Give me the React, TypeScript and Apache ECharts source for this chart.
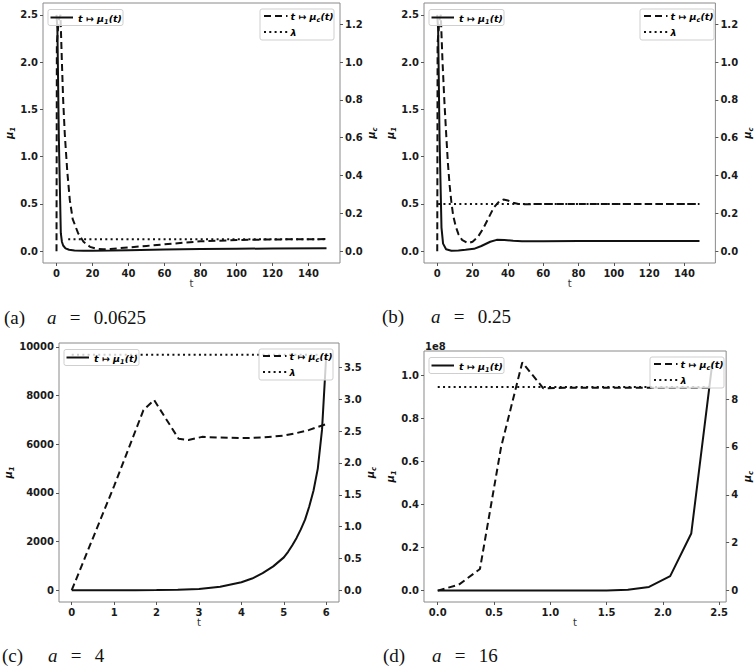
import React, { useEffect, useRef } from "react";
import * as echarts from "echarts";

// ---------------- data ----------------
// (a) a = 0.0625
const tMu1A = [0, 0.5, 1.3, 2.4, 3.0, 3.7, 5, 7, 10, 15, 20, 30, 40, 60, 80, 100, 120, 150];
const mu1A = [2.5, 2.35, 1.2, 0.19, 0.1, 0.06, 0.03, 0.015, 0.008, 0.004, 0.004, 0.006, 0.01, 0.017, 0.022, 0.026, 0.028, 0.03];
const tMucA = [0, 0.2, 1.2, 2.2, 3.0, 3.7, 4.6, 6, 7.4, 9, 12, 15, 18.6, 22, 26, 30, 40, 50, 60, 80, 100, 120, 150];
const mucA = [0, 1.1, 1.22, 1.25, 1.0, 0.8, 0.62, 0.42, 0.27, 0.17, 0.095, 0.05, 0.023, 0.013, 0.01, 0.012, 0.02, 0.028, 0.036, 0.052, 0.059, 0.062, 0.064];
const lambdaA = 0.0625;
const lambdaSpanA = [6.5, 150];

// (b) a = 0.25
const tMu1B = [0, 0.5, 1.3, 2.4, 3.3, 5, 8, 12, 16, 20.8, 25, 30, 33.7, 38, 43, 48, 60, 80, 100, 120, 148.5];
const mu1B = [2.5, 2.35, 1.2, 0.25, 0.08, 0.02, 0.005, 0.008, 0.015, 0.025, 0.055, 0.1, 0.12, 0.118, 0.11, 0.106, 0.106, 0.107, 0.107, 0.107, 0.107];
const tMucB = [0, 0.2, 1.2, 2.0, 3, 4, 5, 6, 7, 8, 9, 10.5, 12, 14, 17.5, 20, 23, 26, 29, 32, 35, 37.5, 40, 43, 46, 50, 60, 80, 100, 120, 148.5];
const mucB = [0, 1.1, 1.22, 1.25, 1.0, 0.8, 0.63, 0.47, 0.35, 0.26, 0.19, 0.13, 0.09, 0.06, 0.042, 0.05, 0.075, 0.12, 0.175, 0.23, 0.262, 0.273, 0.268, 0.256, 0.25, 0.248, 0.25, 0.25, 0.25, 0.25, 0.25];
const lambdaB = 0.25;
const lambdaSpanB = [0.5, 148.5];

// (c) a = 4
const tMu1C = [0, 0.5, 1, 1.5, 2, 2.5, 3, 3.5, 4, 4.25, 4.5, 4.75, 5, 5.1, 5.2, 5.3, 5.4, 5.5, 5.6, 5.7, 5.8, 5.9, 6];
const mu1C = [0, 1, 2, 4, 8, 18, 50, 140, 330, 480, 700, 980, 1350, 1580, 1850, 2150, 2500, 2900, 3450, 4100, 5000, 6600, 9680];
const tMucC = [0, 1.0, 1.69, 1.94, 2.52, 2.75, 3.07, 3.5, 4.0, 4.5, 5.0, 5.3, 5.6, 6.0];
const mucC = [0, 1.64, 2.83, 2.99, 2.38, 2.36, 2.41, 2.4, 2.39, 2.4, 2.43, 2.47, 2.52, 2.61];
const lambdaC = 3.7;
const lambdaSpanC = [0, 6];

// (d) a = 16
const tD = [0, 0.188, 0.375, 0.563, 0.751, 0.938, 1.126, 1.314, 1.501, 1.689, 1.877, 2.065, 2.252, 2.44];
const mu1D = [0, 0, 0, 0, 0, 0, 1e4, 3e4, 1e5, 4e5, 1.7e6, 6.7e6, 2.65e7, 1.06e8];
const mucD = [0, 0.25, 0.9, 6.0, 9.53, 8.45, 8.47, 8.47, 8.47, 8.47, 8.47, 8.47, 8.47, 8.47];
const lambdaD = 8.5;
const lambdaSpanD = [0, 2.44];

// tick values
const xTicksAB = [0, 20, 40, 60, 80, 100, 120, 140];
const mu1TicksAB = [0, 0.5, 1.0, 1.5, 2.0, 2.5];
const mucTicksAB = [0, 0.2, 0.4, 0.6, 0.8, 1.0, 1.2];
const xTicksC = [0, 1, 2, 3, 4, 5, 6];
const mu1TicksC = [0, 2000, 4000, 6000, 8000, 10000];
const mucTicksC = [0, 0.5, 1.0, 1.5, 2.0, 2.5, 3.0, 3.5];
const xTicksD = [0, 0.5, 1.0, 1.5, 2.0, 2.5];
const mu1TicksD = [0, 0.2e8, 0.4e8, 0.6e8, 0.8e8, 1.0e8];
const mucTicksD = [0, 2, 4, 6, 8];

const captionTags = ["(a)", "(b)", "(c)", "(d)"];
const aValues = ["0.0625", "0.25", "4", "16"];

// ---------------- layout / style ----------------
const FONT = "DejaVu Sans";
const INK = "#111";
const SPINE = "#8a8a8a";
const DASH = [7, 4];
const DOT = [2, 3.3];

const panels = [
  {
    box: { left: 43, top: 3, width: 297, height: 260 },
    x: [-7.5, 157.5], yl: [-0.125, 2.625], yr: [-0.0625, 1.3125],
    xt: xTicksAB, lt: mu1TicksAB, rt: mucTicksAB, xd: 0, ld: 1, rd: 1, lscale: 1,
    lGap: 21, rGap: 20,
    t1: tMu1A, m1: mu1A, tc: tMucA, mc: mucA, lam: lambdaA, lamSpan: lambdaSpanA,
    cap: { x: 4, y: 317, aX: 47 },
  },
  {
    box: { left: 424, top: 3, width: 296, height: 260 },
    x: [-7.5, 157.5], yl: [-0.125, 2.625], yr: [-0.0625, 1.3125],
    xt: xTicksAB, lt: mu1TicksAB, rt: mucTicksAB, xd: 0, ld: 1, rd: 1, lscale: 1,
    lGap: 19, rGap: 21,
    t1: tMu1B, m1: mu1B, tc: tMucB, mc: mucB, lam: lambdaB, lamSpan: lambdaSpanB,
    cap: { x: 382, y: 316, aX: 431 },
  },
  {
    box: { left: 59, top: 343, width: 280, height: 259 },
    x: [-0.3, 6.3], yl: [-484, 10161], yr: [-0.185, 3.885],
    xt: xTicksC, lt: mu1TicksC, rt: mucTicksC, xd: 0, ld: 0, rd: 1, lscale: 1,
    lGap: 35, rGap: 20,
    t1: tMu1C, m1: mu1C, tc: tMucC, mc: mucC, lam: lambdaC, lamSpan: lambdaSpanC,
    cap: { x: 2, y: 655, aX: 48 },
  },
  {
    box: { left: 424, top: 351, width: 306, height: 251 },
    x: [-0.122, 2.562], yl: [-0.053e8, 1.113e8], yr: [-0.4765, 10.0065],
    xt: xTicksD, lt: mu1TicksD, rt: mucTicksD, xd: 1, ld: 1, rd: 0, lscale: 1e8,
    lGap: 22, rGap: 11,
    t1: tD, m1: mu1D, tc: tD, mc: mucD, lam: lambdaD, lamSpan: lambdaSpanD,
    cap: { x: 383, y: 655, aX: 432 },
  },
];

const pairs = (t: number[], v: number[]) => t.map((x, i) => [x, v[i]]);

const tickLabel = {
  fontFamily: FONT,
  fontWeight: "bold" as const,
  fontSize: 10,
  color: "#1a1a1a",
};

const mathRich = {
  i: { fontFamily: FONT, fontWeight: "bold", fontStyle: "italic", fontSize: 9.5, color: INK, lineHeight: 14, verticalAlign: "middle" },
  s: { fontFamily: FONT, fontWeight: "bold", fontStyle: "italic", fontSize: 6.5, color: INK, lineHeight: 14, verticalAlign: "bottom" },
};

const nameRich = {
  m: { fontFamily: FONT, fontWeight: "bold", fontStyle: "italic", fontSize: 10, color: INK, lineHeight: 14, verticalAlign: "middle" },
  s: { fontFamily: FONT, fontWeight: "bold", fontStyle: "italic", fontSize: 7, color: INK, lineHeight: 14, verticalAlign: "bottom" },
};

function legendGroups(box: { left: number; top: number; width: number; height: number }) {
  const lx = box.left + 5;
  const ly = box.top + 6.5;
  const rx = box.left + box.width - 6 - 74;
  const ry = box.top + 6;
  return [
    {
      type: "group", x: lx, y: ly, z: 100,
      children: [
        { type: "rect", shape: { x: 0, y: 0, width: 75, height: 16, r: 2 }, style: { fill: "rgba(255,255,255,0.8)", stroke: "#cfcfcf", lineWidth: 1 }, z: 100 },
        { type: "line", shape: { x1: 2.5, y1: 8, x2: 25, y2: 8 }, style: { stroke: INK, lineWidth: 2 }, z: 101 },
        { type: "text", x: 30, y: 8.5, z: 101, style: { text: "{i|t ↦ μ}{s|1}{i|(t)}", rich: mathRich, verticalAlign: "middle", align: "left" } },
      ],
    },
    {
      type: "group", x: rx, y: ry, z: 100,
      children: [
        { type: "rect", shape: { x: 0, y: 0, width: 74, height: 31, r: 2 }, style: { fill: "rgba(255,255,255,0.8)", stroke: "#cfcfcf", lineWidth: 1 }, z: 100 },
        { type: "line", shape: { x1: 4, y1: 7, x2: 27.5, y2: 7 }, style: { stroke: INK, lineWidth: 2, lineDash: DASH }, z: 101 },
        { type: "text", x: 30.5, y: 7.5, z: 101, style: { text: "{i|t ↦ μ}{s|c}{i|(t)}", rich: mathRich, verticalAlign: "middle", align: "left" } },
        { type: "line", shape: { x1: 4, y1: 23, x2: 27.5, y2: 23 }, style: { stroke: INK, lineWidth: 2, lineDash: DOT }, z: 101 },
        { type: "text", x: 30.5, y: 23, z: 101, style: { text: "{i|λ}", rich: mathRich, verticalAlign: "middle", align: "left" } },
      ],
    },
  ];
}

function buildOption() {
  const grid: any[] = [];
  const xAxis: any[] = [];
  const yAxis: any[] = [];
  const series: any[] = [];
  const graphic: any[] = [];

  panels.forEach((p, i) => {
    grid.push({
      left: p.box.left, top: p.box.top, width: p.box.width, height: p.box.height,
      show: true, borderColor: SPINE, borderWidth: 1, backgroundColor: "transparent",
      containLabel: false,
    });
    xAxis.push({
      type: "value", gridIndex: i, min: p.x[0], max: p.x[1],
      axisLine: { show: false, onZero: false },
      splitLine: { show: false },
      axisTick: { show: true, length: 3, customValues: p.xt, lineStyle: { color: "#555" } },
      axisLabel: { show: true, customValues: p.xt, margin: 5, formatter: (v: number) => v.toFixed(p.xd), ...tickLabel },
      name: "t", nameLocation: "middle", nameGap: 14,
      nameTextStyle: { fontFamily: FONT, fontSize: 10, color: "#333" },
    });
    yAxis.push({
      type: "value", gridIndex: i, position: "left", min: p.yl[0], max: p.yl[1],
      axisLine: { show: false, onZero: false },
      splitLine: { show: false },
      axisTick: { show: true, length: 3, customValues: p.lt, lineStyle: { color: "#555" } },
      axisLabel: { show: true, customValues: p.lt, margin: 5, formatter: (v: number) => (v / p.lscale).toFixed(p.ld), ...tickLabel },
      name: "{m|μ}{s|1}", nameLocation: "middle", nameRotate: 90, nameGap: p.lGap,
      nameTextStyle: { rich: nameRich },
    });
    yAxis.push({
      type: "value", gridIndex: i, position: "right", min: p.yr[0], max: p.yr[1],
      axisLine: { show: false, onZero: false },
      splitLine: { show: false },
      axisTick: { show: true, length: 3, customValues: p.rt, lineStyle: { color: "#555" } },
      axisLabel: { show: true, customValues: p.rt, margin: 5, formatter: (v: number) => v.toFixed(p.rd), ...tickLabel },
      name: "{m|μ}{s|c}", nameLocation: "middle", nameRotate: 90, nameGap: p.rGap,
      nameTextStyle: { rich: nameRich },
    });

    series.push({
      type: "line", name: "mu1", xAxisIndex: i, yAxisIndex: 2 * i,
      data: pairs(p.t1, p.m1), symbol: "none", showSymbol: false,
      lineStyle: { color: INK, width: 2 }, z: 3, clip: true,
    });
    series.push({
      type: "line", name: "muc", xAxisIndex: i, yAxisIndex: 2 * i + 1,
      data: pairs(p.tc, p.mc), symbol: "none", showSymbol: false,
      lineStyle: { color: INK, width: 2, type: DASH, cap: "butt" }, z: 3, clip: true,
    });
    series.push({
      type: "line", name: "lambda", xAxisIndex: i, yAxisIndex: 2 * i + 1,
      data: [[p.lamSpan[0], p.lam], [p.lamSpan[1], p.lam]], symbol: "none", showSymbol: false,
      lineStyle: { color: INK, width: 2, type: DOT, cap: "butt" }, z: 3, clip: true,
    });

    graphic.push(...legendGroups(p.box));

    graphic.push({
      type: "text", x: p.cap.x, y: p.cap.y, z: 100,
      style: { text: captionTags[i], fontFamily: "Liberation Serif", fontSize: 19, fill: "#111", verticalAlign: "middle", align: "left" },
    });
    graphic.push({
      type: "text", x: p.cap.aX, y: p.cap.y, z: 100,
      style: {
        text: "{i|a}{n|\u2002\u2009=\u2002\u2009" + aValues[i] + "}",
        rich: {
          i: { fontFamily: "Liberation Serif", fontStyle: "italic", fontSize: 19, fill: "#111" },
          n: { fontFamily: "Liberation Serif", fontSize: 19, fill: "#111" },
        },
        verticalAlign: "middle", align: "left",
      },
    });
  });

  // scale factor label of panel (d)
  graphic.push({
    type: "text", x: panels[3].box.left + 1, y: panels[3].box.top - 5, z: 100,
    style: { text: "1e8", fontFamily: FONT, fontWeight: "bold", fontSize: 10, fill: "#1a1a1a", verticalAlign: "middle", align: "left" },
  });

  return {
    animation: false,
    backgroundColor: "#ffffff",
    grid, xAxis, yAxis, series, graphic,
  };
}

export default function App() {
  const ref = useRef<HTMLDivElement>(null);
  useEffect(() => {
    if (!ref.current) return;
    const chart = echarts.init(ref.current, undefined, { renderer: "svg" });
    chart.setOption(buildOption() as any);
    return () => chart.dispose();
  }, []);
  return (
    <div
      ref={ref}
      style={{ position: "absolute", left: 0, top: 0, width: 755, height: 670 }}
    />
  );
}
